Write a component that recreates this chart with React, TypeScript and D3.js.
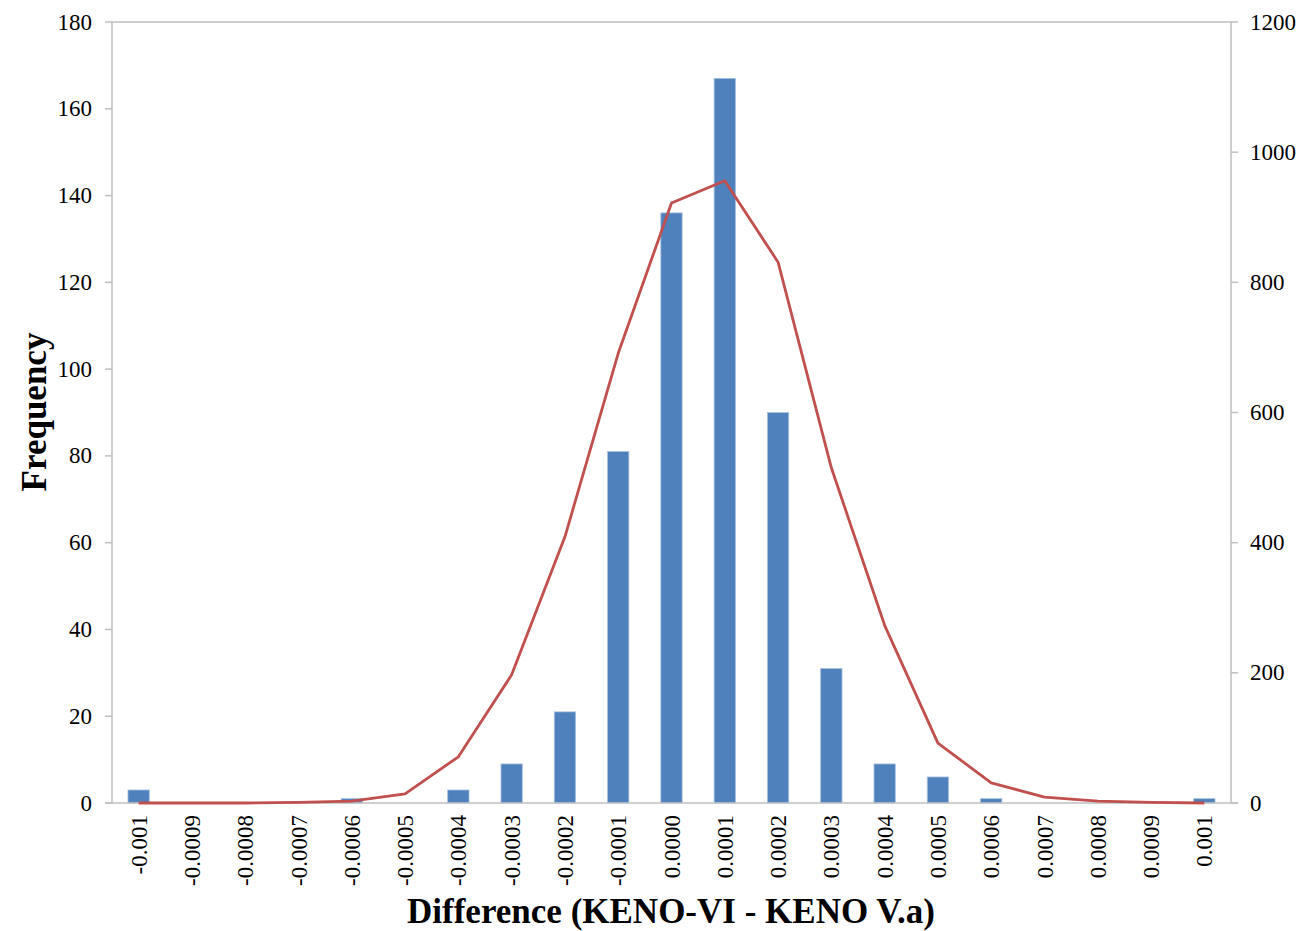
import React from "react";
import * as d3 from "d3";

const categories = ["-0.001","-0.0009","-0.0008","-0.0007","-0.0006","-0.0005","-0.0004","-0.0003","-0.0002","-0.0001","0.0000","0.0001","0.0002","0.0003","0.0004","0.0005","0.0006","0.0007","0.0008","0.0009","0.001"];
const frequency = [3,0,0,0,1,0,3,9,21,81,136,167,90,31,9,6,1,0,0,0,1];
const curve = [0,0,0,1,3,14,71,197,409,691,922,956,831,515,273,92,31,9,3,1,0];
const leftTicks = [0,20,40,60,80,100,120,140,160,180];
const rightTicks = [0,200,400,600,800,1000,1200];

const W = 1301, H = 931;
const L = 112, R = 1231, T = 22, B = 803;
const FONT = "'Liberation Serif', 'Times New Roman', serif";

export default function App() {
  const x = d3.scaleBand<string>().domain(categories).range([L, R]).paddingInner(0.6).paddingOuter(0.3);
  const xc = (c: string) => (x(c) as number) + x.bandwidth() / 2;
  const yL = d3.scaleLinear().domain([0, 180]).range([B, T]);
  const yR = d3.scaleLinear().domain([0, 1200]).range([B, T]);
  const line = d3.line<number>().x((_, i) => xc(categories[i])).y((d) => yR(d));
  const axisColor = "#bfbfbf";
  return (
    <svg width={W} height={H} style={{ position: "absolute", left: 0, top: 0 }} fontFamily={FONT}>
      <rect x={0} y={0} width={W} height={H} fill="#fff" />
      <line x1={L} x2={R} y1={T} y2={T} stroke={axisColor} strokeWidth={1.5} />
      <line x1={L} x2={L} y1={T} y2={B} stroke={axisColor} strokeWidth={1.5} />
      {leftTicks.map((t) => (
        <g key={"l" + t}>
          <line x1={L - 7} x2={L} y1={yL(t)} y2={yL(t)} stroke={axisColor} strokeWidth={1.5} />
          <text x={92} y={yL(t)} dy="0.33em" textAnchor="end" fontSize={23} fill="#000">{t}</text>
        </g>
      ))}
      <line x1={R} x2={R} y1={T} y2={B} stroke={axisColor} strokeWidth={1.5} />
      {rightTicks.map((t) => (
        <g key={"r" + t}>
          <line x1={R} x2={R + 7} y1={yR(t)} y2={yR(t)} stroke={axisColor} strokeWidth={1.5} />
          <text x={1250} y={yR(t)} dy="0.33em" textAnchor="start" fontSize={23} fill="#000">{t}</text>
        </g>
      ))}
      {frequency.map((v, i) => (
        <rect key={"b" + i} x={x(categories[i])} y={yL(v)} width={x.bandwidth()} height={B - yL(v)}
          fill="#4f81bd" stroke="#a7c0de" strokeWidth={0.8} />
      ))}
      <line x1={L - 7} x2={R + 7} y1={B} y2={B} stroke={axisColor} strokeWidth={1.5} />
      <path d={line(curve) || ""} fill="none" stroke="#c0504d" strokeWidth={2.8} strokeLinejoin="round" />
      {categories.map((c) => (
        <text key={"x" + c} transform={`translate(${xc(c) + 8},${815}) rotate(-90)`} textAnchor="end" fontSize={23} fill="#000">{c}</text>
      ))}
      <text x={671} y={923} textAnchor="middle" fontSize={35} fontWeight="bold" fill="#000">Difference (KENO-VI - KENO V.a)</text>
      <text transform={`translate(46,412) rotate(-90)`} textAnchor="middle" fontSize={35} fontWeight="bold" fill="#000">Frequency</text>
    </svg>
  );
}
